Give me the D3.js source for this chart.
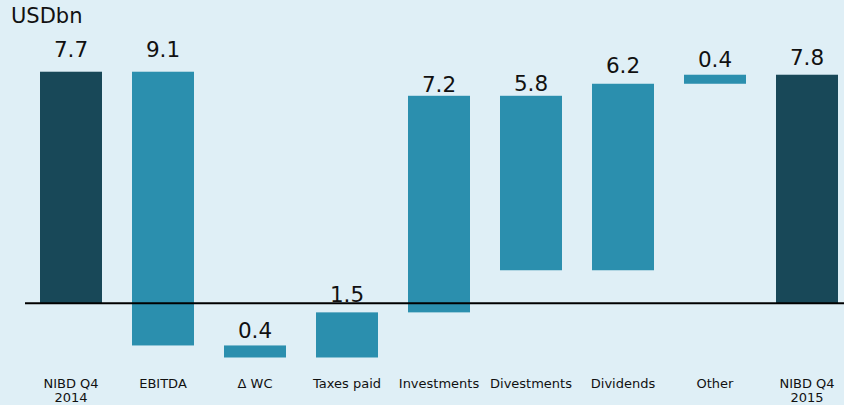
<!DOCTYPE html>
<html>
<head>
<meta charset="utf-8">
<script src="https://cdn.jsdelivr.net/npm/d3@7"></script>
<style>
  html, body { margin: 0; padding: 0; background: #dfeff6; }
  svg { display: block; }
  text { font-family: "DejaVu Sans", Verdana, sans-serif; fill: #111; }
</style>
</head>
<body>
<svg id="chart" width="844" height="405"></svg>
<script>
// Data
const categories = [["NIBD Q4", "2014"], ["EBITDA"], ["Δ WC"], ["Taxes paid"], ["Investments"], ["Divestments"], ["Dividends"], ["Other"], ["NIBD Q4", "2015"]];
const barLows  = [0, -1.4, -1.8, -1.8, -0.3, 1.1, 1.1, 7.3, 0];
const barHighs = [7.7, 7.7, -1.4, -0.3, 6.9, 6.9, 7.3, 7.6, 7.6];
const valueLabels = ["7.7", "9.1", "0.4", "1.5", "7.2", "5.8", "6.2", "0.4", "7.8"];
const isTotal = [true, false, false, false, false, false, false, false, true];
const unitLabel = "USDbn";

// Layout (label distance above bar top, px)
const labelGaps = [14.4, 14.4, 7.7, 10.3, 4, 4.3, 10.7, 7.3, 10];

const W = 844, H = 405;
const svg = d3.select("#chart");
svg.append("rect").attr("width", W).attr("height", H).attr("fill", "#dfeff6");

const idx = d3.range(categories.length);
const x = d3.scaleBand().domain(idx).range([25, 853]).paddingInner(30 / 92).paddingOuter(15 / 92);
const y = d3.scaleLinear().domain([-2, 8]).range([363.5, 62.7]);

svg.append("text").attr("x", 11).attr("y", 23).attr("font-size", 21).text(unitLabel);

svg.selectAll("rect.bar").data(idx).join("rect")
  .attr("class", "bar")
  .attr("x", i => x(i))
  .attr("width", x.bandwidth())
  .attr("y", i => y(barHighs[i]))
  .attr("height", i => y(barLows[i]) - y(barHighs[i]))
  .attr("fill", i => isTotal[i] ? "#184858" : "#2b8fae");

svg.append("line")
  .attr("x1", 25).attr("x2", W)
  .attr("y1", y(0)).attr("y2", y(0))
  .attr("stroke", "#000").attr("stroke-width", 2);

svg.selectAll("text.val").data(idx).join("text")
  .attr("class", "val")
  .attr("x", i => x(i) + x.bandwidth() / 2)
  .attr("y", i => y(barHighs[i]) - labelGaps[i])
  .attr("text-anchor", "middle")
  .attr("font-size", 21.5)
  .text(i => valueLabels[i]);

const cat = svg.selectAll("text.cat").data(idx).join("text")
  .attr("class", "cat")
  .attr("text-anchor", "middle")
  .attr("font-size", 13);
cat.each(function(i) {
  const t = d3.select(this);
  categories[i].forEach((line, k) => {
    t.append("tspan").attr("x", x(i) + x.bandwidth() / 2).attr("y", 388 + k * 14).text(line);
  });
});
</script>
</body>
</html>
